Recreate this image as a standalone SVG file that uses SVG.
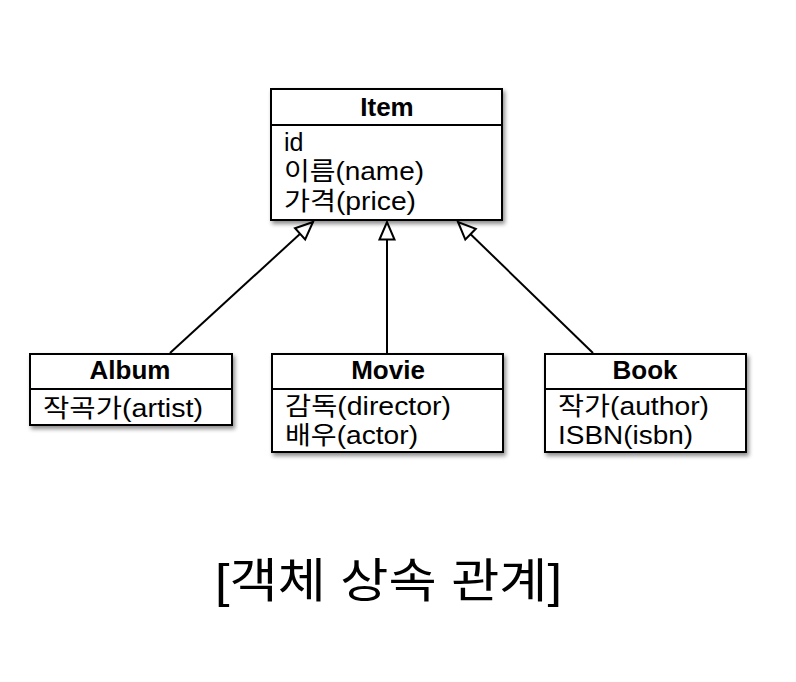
<svg xmlns="http://www.w3.org/2000/svg" width="796" height="682" viewBox="0 0 796 682">
<defs>
  <filter id="shadow" x="-10%" y="-10%" width="130%" height="140%">
    <feDropShadow dx="2" dy="3" stdDeviation="2" flood-color="#000" flood-opacity="0.45"/>
  </filter>
  <marker id="tri" markerUnits="userSpaceOnUse" markerWidth="24" markerHeight="20" refX="19" refY="9" orient="auto" viewBox="0 0 24 18">
    <path d="M1.5,1.5 L19,9 L1.5,16.5 Z" fill="#fff" stroke="#000" stroke-width="2" stroke-linejoin="miter"/>
  </marker>
  <style>
    .box { fill: #fff; stroke: #000; stroke-width: 2; }
    .div { stroke: #000; stroke-width: 2; }
    .hdr { font-family: "Liberation Sans", "Noto Sans CJK KR", sans-serif; font-size: 26px; font-weight: bold; text-anchor: middle; fill: #000; }
    .att { font-family: "Liberation Sans", "Noto Sans CJK KR", sans-serif; font-size: 25px; fill: #000; }
    .edge { stroke: #000; stroke-width: 2; fill: none; marker-end: url(#tri); }
    .title { font-family: "Liberation Sans", "Noto Sans CJK KR", sans-serif; font-size: 47px; text-anchor: middle; fill: #000; }
  </style>
</defs>
<rect width="796" height="682" fill="#fff"/>

<g id="connectors">
  <line class="edge" x1="170" y1="353" x2="313" y2="222"/>
  <line class="edge" x1="387" y1="353" x2="387" y2="222"/>
  <line class="edge" x1="593" y1="353" x2="458" y2="222"/>
</g>

<g id="item">
  <rect class="box" x="271" y="89" width="231" height="131" filter="url(#shadow)"/>
  <line class="div" x1="271" y1="125" x2="502" y2="125"/>
  <text class="hdr" x="387" y="116">Item</text>
  <text class="att" x="284" y="151">id</text>
  <text class="att" x="284" y="180" textLength="140" lengthAdjust="spacingAndGlyphs">이름(name)</text>
  <text class="att" x="284" y="210" textLength="132" lengthAdjust="spacingAndGlyphs">가격(price)</text>
</g>

<g id="album">
  <rect class="box" x="30" y="354" width="202" height="71" filter="url(#shadow)"/>
  <line class="div" x1="30" y1="389" x2="232" y2="389"/>
  <text class="hdr" x="130" y="379">Album</text>
  <text class="att" x="43" y="417" textLength="160" lengthAdjust="spacingAndGlyphs">작곡가(artist)</text>
</g>

<g id="movie">
  <rect class="box" x="272" y="354" width="231" height="98" filter="url(#shadow)"/>
  <line class="div" x1="272" y1="389" x2="503" y2="389"/>
  <text class="hdr" x="388" y="379">Movie</text>
  <text class="att" x="285" y="415" textLength="166" lengthAdjust="spacingAndGlyphs">감독(director)</text>
  <text class="att" x="285" y="444" textLength="133" lengthAdjust="spacingAndGlyphs">배우(actor)</text>
</g>

<g id="book">
  <rect class="box" x="545" y="354" width="201" height="98" filter="url(#shadow)"/>
  <line class="div" x1="545" y1="389" x2="746" y2="389"/>
  <text class="hdr" x="645" y="379">Book</text>
  <text class="att" x="558" y="415" textLength="151" lengthAdjust="spacingAndGlyphs">작가(author)</text>
  <text class="att" x="558" y="444" textLength="135" lengthAdjust="spacingAndGlyphs">ISBN(isbn)</text>
</g>

<text class="title" x="388.5" y="597" textLength="347" lengthAdjust="spacingAndGlyphs">[객체 상속 관계]</text>
</svg>
